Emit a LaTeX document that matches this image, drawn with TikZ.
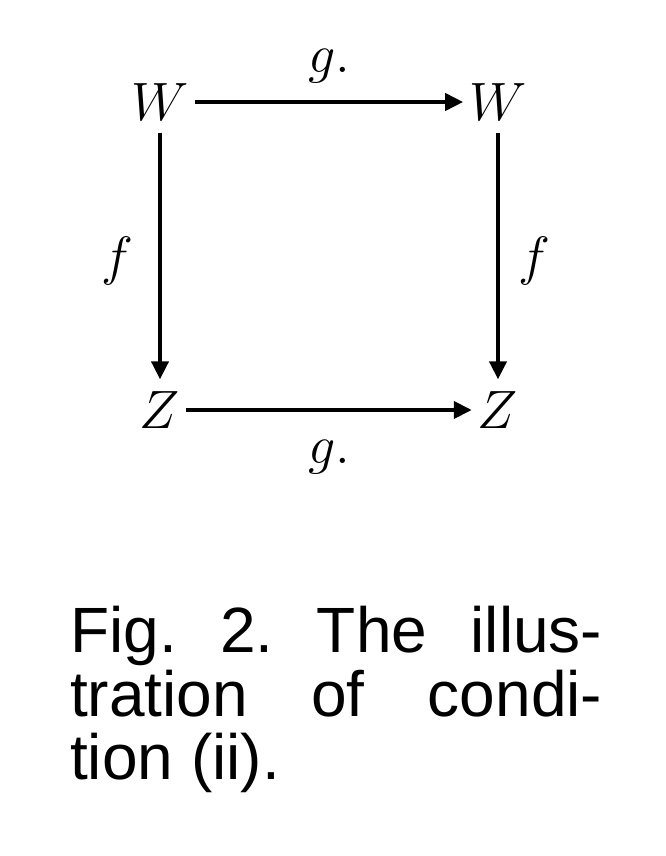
\documentclass[tikz,border=0pt]{standalone}
\usepackage{fix-cm}
\usepackage{fontspec}
\setmainfont{Liberation Sans}
\usetikzlibrary{arrows.meta, positioning}
\frenchspacing
\tikzset{
    object/.style={inner xsep=6pt, inner ysep=12pt, font=\fontsize{54}{60}\selectfont},
    maplabel/.style={inner sep=0pt, font=\fontsize{54}{60}\selectfont},
    maparrow/.style={line width=4pt, -{Triangle[length=18pt, width=17pt]}},
    captionline/.style={anchor=base west, inner sep=0pt, font=\fontsize{64}{62}\selectfont}
}

\begin{document}
\begin{tikzpicture}[x=1pt, y=-1pt]
    \useasboundingbox (0,0) rectangle (666,856);

    % Objects
    \node (wl) at (160,102) [object] {$W$};
    \node (wr) at (498,102) [object] {$W$};
    \node (zl) at (160,410) [object] {$Z$};
    \node (zr) at (498,410) [object] {$Z$};

    % Maps
    \draw[maparrow] (wl) -- node[above=17pt, maplabel] (gtop) {$g.$} (wr);
    \draw[maparrow] (zl) -- node[below=28pt, maplabel] (gbot) {$g.$} (zr);
    \draw[maparrow] (wl) -- node[pos=0.52, left=25pt, maplabel] (fl) {$f$} (zl);
    \draw[maparrow] (wr) -- node[pos=0.52, right=18pt, maplabel] (fr) {$f$} (zr);

    % Caption
    \node (cap1) at (70,652) [captionline] {\makebox[532pt][s]{Fig. 2. The illus-}};
    \node (cap2) at (70,716) [captionline] {\makebox[532pt][s]{tration of condi-}};
    \node (cap3) at (70,779) [captionline] {tion (ii).};
\end{tikzpicture}
\end{document}
